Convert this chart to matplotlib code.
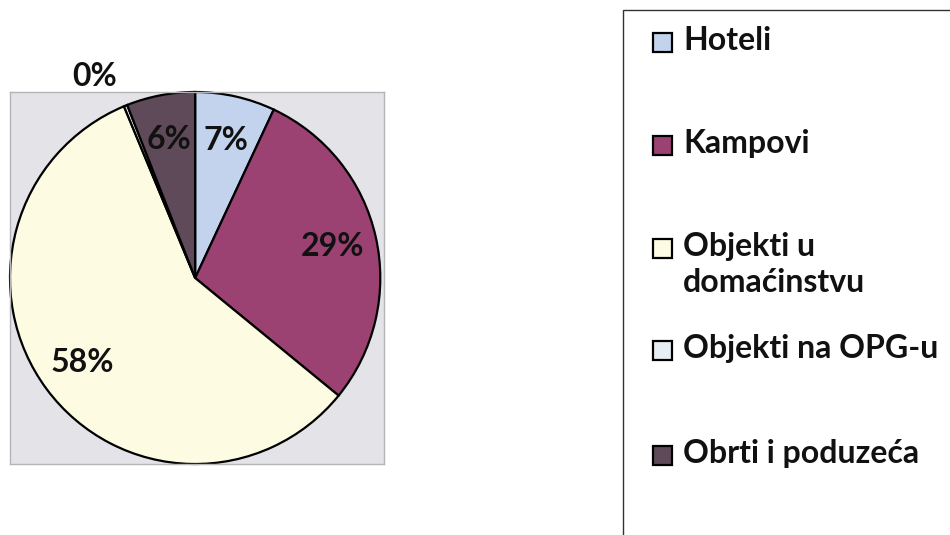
import matplotlib
matplotlib.use('Agg')
import matplotlib.pyplot as plt
from matplotlib.patches import Rectangle
import numpy as np

# ------------------------------------------------------------------
#  DATA
# ------------------------------------------------------------------
categories = ['Hoteli', 'Kampovi', 'Objekti u\ndomaćinstvu',
              'Objekti na OPG-u', 'Obrti i poduzeća']
shares = [7, 29, 58, 0.3, 6]
colors = ['#c3d3ee', '#9c4272', '#fdfbe2', '#e6eef3', '#5e4a58']

FONT = 'Lato'
FS = 23
W, H = 950, 535


def fig_xy(x, y):
    """pixel (from top-left) -> figure fraction"""
    return x / W, 1 - y / H


fig = plt.figure(figsize=(W / 100, H / 100), dpi=100)
fig.patch.set_facecolor('white')

# pie plot area (grey square)
x0, y0 = fig_xy(10, 464)
ax = fig.add_axes([x0, y0, 374 / W, 372 / H])

wedges, _, autotexts = ax.pie(
    shares, colors=colors, startangle=90, counterclock=False,
    radius=1.0, autopct='%.0f%%', pctdistance=0.76,
    wedgeprops=dict(edgecolor='black', linewidth=1.6),
    textprops=dict(fontsize=FS, fontweight='bold', family=FONT, color='#111111'))
ax.set_axis_on()
ax.set_frame_on(True)
ax.set_facecolor('#e4e3e8')
for sp in ax.spines.values():
    sp.set_visible(True)
    sp.set_color('#b5b5b8')
    sp.set_linewidth(1.0)
ax.set_xticks([])
ax.set_yticks([])
ax.set_xlim(-1.0, 1.02)
ax.set_ylim(-1.0, 1.0)
ax.set_aspect('auto')

# the tiny OPG slice gets its label outside the circle
w = wedges[3]
ang = np.deg2rad((w.theta1 + w.theta2) / 2 + 4.5)
autotexts[3].set_position((1.21 * np.cos(ang), 1.21 * np.sin(ang)))
autotexts[3].set_clip_on(False)

# legend box (runs off the right and bottom edges)
lx, ly = fig_xy(623, 600)
fig.patches.append(Rectangle((lx, ly), 400 / W, 590 / H, transform=fig.transFigure,
                             facecolor='white', edgecolor='#333333', linewidth=1.0,
                             clip_on=False, zorder=0))

entry_y = [42, 145, 248, 350, 455]
for lab, col, yc in zip(categories, colors, entry_y):
    sx, sy = fig_xy(653, yc + 10)
    fig.patches.append(Rectangle((sx, sy), 19 / W, 19 / H, transform=fig.transFigure,
                                 facecolor=col, edgecolor='black', linewidth=1.6))
    tx, ty = fig_xy(683, yc - 16)
    fig.text(tx, ty, lab, ha='left', va='top', fontsize=FS, fontweight='bold',
             family=FONT, color='#111111', linespacing=1.3)

fig.savefig('out.png', dpi=100)
